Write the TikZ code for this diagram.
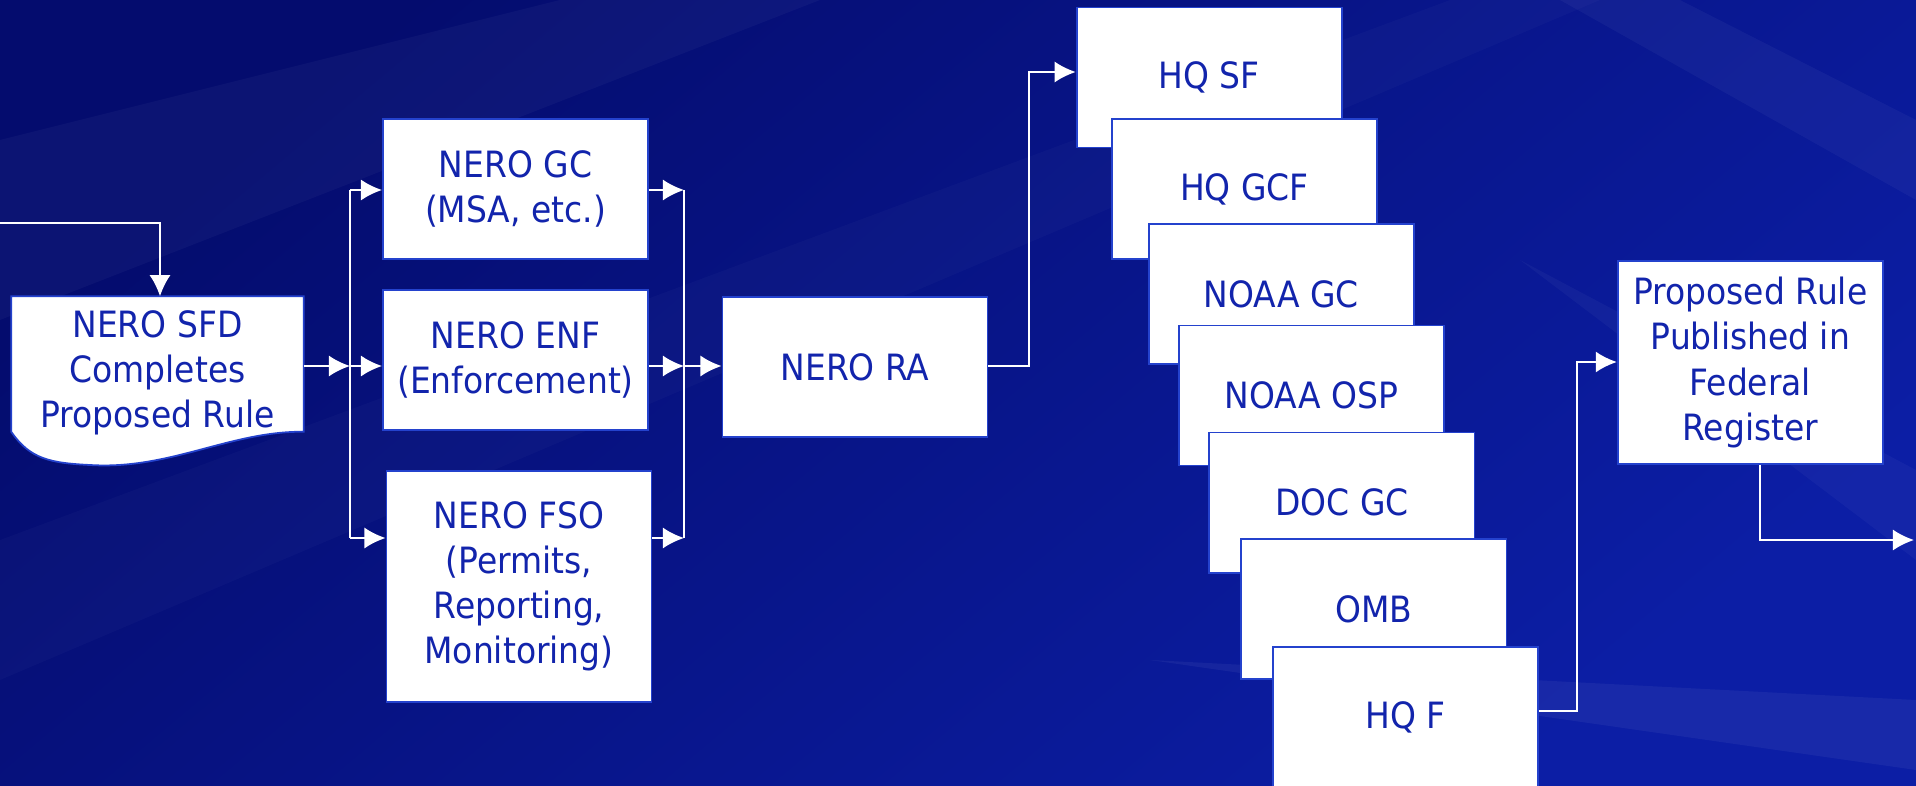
\documentclass[tikz,border=0pt]{standalone}
\usepackage{fontspec}
\setmainfont{DejaVu Sans}[FakeStretch=0.91]
\usetikzlibrary{arrows.meta}

\definecolor{bgdark}{RGB}{4,12,110}
\definecolor{bgmid}{RGB}{12,30,165}
\definecolor{boxline}{RGB}{36,66,205}
\definecolor{textblue}{RGB}{18,36,172}

\begin{document}
\begin{tikzpicture}[> = {Latex[length=6pt, width=6pt]}, x = 0.01cm, y = -0.01cm,
    box/.style = {draw = boxline, line width = 0.5pt, fill = white, text = textblue,
        align = center, inner sep = 0pt, minimum width = 2.65cm, minimum height = 1.4cm,
        font = \fontsize{10.3}{12.8}\selectfont},
    link/.style = {draw = white, line width = 0.6pt}]

        % Background and its light streaks.
        \useasboundingbox (0, 0) rectangle (1916, 785);
        \shade[top color = bgdark, bottom color = bgmid, shading angle = 40]
            (0, 0) rectangle (1916, 785);
        \fill[white, opacity = 0.035] (0, 140) -- (560, 0) -- (820, 0) -- (0, 320) -- cycle;
        \fill[white, opacity = 0.025] (0, 540) -- (1450, 0) -- (1600, 0) -- (0, 680) -- cycle;
        \fill[white, opacity = 0.04] (1916, 200) -- (1560, 0) -- (1680, 0) -- (1916, 120) -- cycle;
        \fill[white, opacity = 0.035] (1916, 560) -- (1520, 260) -- (1916, 470) -- cycle;
        \fill[white, opacity = 0.05] (1916, 770) -- (1150, 660) -- (1916, 700) -- cycle;

        % Junction points of the connectors.
        \coordinate (in) at (0, 223);
        \coordinate (J0) at (160, 223);
        \coordinate (L1) at (350, 190);
        \coordinate (L2) at (350, 366);
        \coordinate (L3) at (350, 538);
        \coordinate (R1) at (684, 190);
        \coordinate (R2) at (684, 366);
        \coordinate (R3) at (684, 538);
        \coordinate (J1) at (1029, 72);
        \coordinate (J2) at (1577, 711);
        \coordinate (J3) at (1577, 362);
        \coordinate (J4) at (1760, 540);
        \coordinate (out) at (1914, 540);

        % The first step, drawn as a document.
        \node[minimum width = 2.91cm, minimum height = 1.34cm] (sfd) at (157.5, 364) {};
        \fill[white, draw = boxline, line width = 0.5pt] (sfd.north west) -- (sfd.north east)
            -- (sfd.south east) .. controls (230, 431) and (170, 470) .. (90, 465)
            .. controls (50, 463) and (30, 459) .. (sfd.south west) -- cycle;
        \node[box, draw = none, fill = none, minimum size = 0pt] (sfdtext) at (157.5, 373)
            {NERO SFD\\Completes\\Proposed Rule};

        % The regional offices.
        \node[box] (gc) at (515.5, 189) {NERO GC\\(MSA, etc.)};
        \node[box] (enf) at (515.5, 360) {NERO ENF\\(Enforcement)};
        \node[box, minimum height = 2.31cm] (fso) at (519, 586.5)
            {NERO FSO\\(Permits,\\Reporting,\\Monitoring)};
        \node[box] (ra) at (855, 367) {NERO RA};

        % The headquarters reviews, stacked.
        \node[box] (hqsf) at (1209.2, 77.5) {HQ SF};
        \node[box] (hqgcf) at (1244.5, 189) {HQ GCF};
        \node[box] (noaagc) at (1281.2, 294) {NOAA GC};
        \node[box] (noaaosp) at (1311.3, 395.5) {NOAA OSP};
        \node[box] (docgc) at (1341.9, 502.6) {DOC GC};
        \node[box] (omb) at (1373.8, 609) {OMB};
        \node[box] (hqf) at (1405.5, 717) {HQ F};

        \node[box, minimum height = 2.03cm] (pub) at (1750.3, 362.5)
            {Proposed Rule\\Published in\\Federal\\Register};

        % Connectors.
        \draw[link, ->] (in) -- (J0) -- (sfd.north -| J0);
        \draw[link, ->] (sfd.east |- L2) -- (L2);
        \draw[link] (L1) -- (L3);
        \draw[link, ->] (L1) -- (gc.west |- L1);
        \draw[link, ->] (L2) -- (enf.west |- L2);
        \draw[link, ->] (L3) -- (fso.west |- L3);
        \draw[link, ->] (gc.east |- R1) -- (R1);
        \draw[link, ->] (enf.east |- R2) -- (R2);
        \draw[link, ->] (fso.east |- R3) -- (R3);
        \draw[link] (R1) -- (R3);
        \draw[link, ->] (R2) -- (ra.west |- R2);
        \draw[link, ->] (ra.east |- R2) -| (J1) -- (hqsf.west |- J1);
        \draw[link, ->] (hqf.east |- J2) -- (J2) -- (J3) -- (pub.west |- J3);
        \draw[link, ->] (J4 |- pub.south) -- (J4) -- (out);
    \end{tikzpicture}
\end{document}
